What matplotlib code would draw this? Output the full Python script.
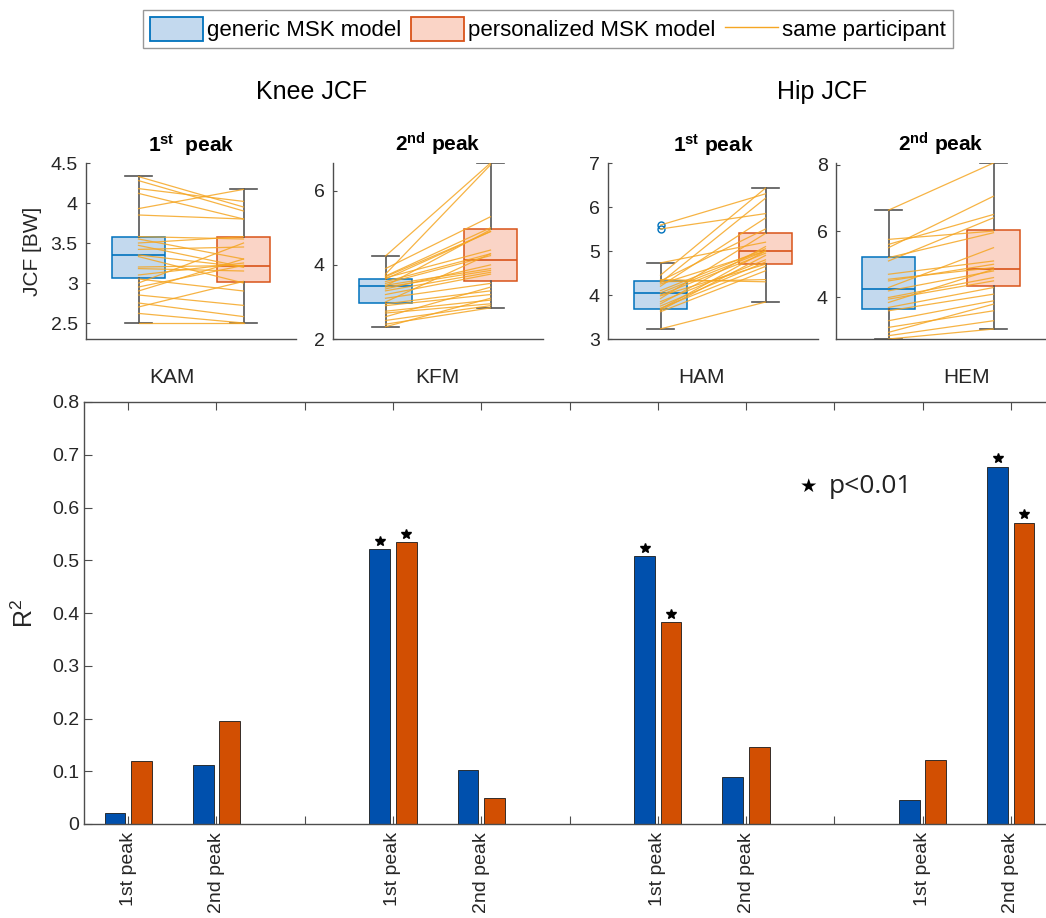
import numpy as np
import matplotlib
matplotlib.use('Agg')
import matplotlib.pyplot as plt
from matplotlib.patches import Patch
from matplotlib.lines import Line2D

plt.rcParams['font.family'] = ['Liberation Sans', 'DejaVu Sans']
plt.rcParams['mathtext.fontset'] = 'custom'
plt.rcParams['mathtext.bf'] = 'Liberation Sans:bold'
plt.rcParams['mathtext.rm'] = 'Liberation Sans'

# ---- top panels: peak JCF per participant [BW] ----
panel_titles = [r'$\mathbf{1^{st}}$  peak', r'$\mathbf{2^{nd}}$ peak',
                r'$\mathbf{1^{st}}$ peak', r'$\mathbf{2^{nd}}$ peak']

kam_generic = [4.33, 4.28, 4.18, 4.12, 3.93, 3.85, 3.58, 3.55, 3.50, 3.47, 3.42, 3.35, 3.33,
               3.20, 3.18, 3.10, 3.05, 3.00, 2.95, 2.90, 2.85, 2.75, 2.70, 2.62, 2.50]
kam_personal = [3.95, 3.90, 4.02, 3.80, 4.17, 3.80, 3.55, 3.30, 3.58, 3.20, 3.45, 3.20, 3.00,
                3.22, 3.15, 3.25, 2.90, 3.50, 3.22, 3.30, 2.72, 2.58, 3.02, 2.50, 2.50]

kfm_generic = [4.24, 3.90, 3.75, 3.70, 3.68, 3.65, 3.62, 3.55, 3.50, 3.45, 3.43, 3.40, 3.35,
               3.30, 3.20, 3.10, 3.00, 2.95, 2.90, 2.75, 2.70, 2.60, 2.50, 2.40, 2.33]
kfm_personal = [6.75, 5.30, 6.70, 5.00, 4.90, 4.40, 4.90, 4.30, 4.25, 3.90, 4.95, 3.85, 4.00,
                3.80, 3.75, 3.50, 4.30, 3.30, 3.20, 3.05, 2.95, 3.40, 2.90, 2.84, 3.10]

ham_generic = [5.59, 5.50, 4.73, 4.45, 4.35, 4.32, 4.30, 4.28, 4.25, 4.20, 4.10, 4.05, 4.00,
               3.98, 3.92, 3.85, 3.80, 3.75, 3.70, 3.68, 3.65, 3.62, 3.23]
ham_personal = [6.30, 5.85, 5.20, 6.43, 4.30, 5.50, 4.35, 6.20, 5.00, 5.75, 5.05, 5.00, 4.95,
                4.70, 5.40, 4.80, 5.10, 4.75, 4.65, 5.00, 4.90, 4.55, 3.84]

hem_generic = [6.63, 5.75, 5.60, 5.50, 5.20, 5.10, 4.70, 4.55, 4.50, 4.30, 4.20, 4.00, 3.95,
               3.85, 3.70, 3.60, 3.30, 3.10, 2.95, 2.85, 2.75]
hem_personal = [8.05, 6.00, 6.50, 7.05, 5.95, 6.40, 5.10, 4.90, 5.00, 5.50, 4.80, 4.60, 4.50,
                4.85, 4.30, 4.10, 3.90, 3.60, 3.80, 3.30, 3.05]

# box statistics: (whislo, q1, median, q3, whishi, fliers)
box_generic = [(2.50, 3.06, 3.35, 3.58, 4.34, []),
               (2.33, 2.97, 3.43, 3.62, 4.24, []),
               (3.23, 3.68, 4.04, 4.32, 4.73, [5.59, 5.50]),
               (2.75, 3.64, 4.27, 5.22, 6.63, [])]
box_personal = [(2.50, 3.01, 3.21, 3.58, 4.18, []),
                (2.84, 3.57, 4.12, 4.98, 6.75, []),
                (3.84, 4.70, 5.00, 5.41, 6.43, []),
                (3.05, 4.36, 4.87, 6.03, 8.05, [])]

panel_ylims = [(2.3, 4.5), (2.0, 6.75), (3.0, 7.0), (2.75, 8.05)]
panel_yticks = [[2.5, 3, 3.5, 4, 4.5], [2, 4, 6], [3, 4, 5, 6, 7], [4, 6, 8]]

# ---- bottom panel: R^2 between moment peaks and JCF peaks ----
moments = ['KAM', 'KFM', 'HAM', 'HEM']
peak_labels = ['1st peak', '2nd peak']
r2_generic = [0.020, 0.111, 0.521, 0.103, 0.508, 0.090, 0.046, 0.677]
r2_personal = [0.119, 0.196, 0.534, 0.050, 0.383, 0.146, 0.121, 0.571]
sig_generic = [False, False, True, False, True, False, False, True]
sig_personal = [False, False, True, False, True, False, False, True]

BLUE_EDGE = '#0072BD'
BLUE_FACE = '#C3D9EE'
ORANGE_EDGE = '#D95319'
ORANGE_FACE = '#FAD4C6'
PART_COLOR = '#F5A623'
BAR_BLUE = '#0050AD'
BAR_ORANGE = '#D24F02'
AX_GRAY = '#4D4D4D'

W, H = 1046, 918
fig = plt.figure(figsize=(W / 100, H / 100), dpi=100)


def fx(px):
    return px / W


def fy(px):
    return 1 - px / H


pairs = [(kam_generic, kam_personal), (kfm_generic, kfm_personal),
         (ham_generic, ham_personal), (hem_generic, hem_personal)]
panel_left = [86, 333, 608, 836]

for i in range(4):
    ax = fig.add_axes([fx(panel_left[i]), fy(339), fx(210), 176 / H])
    stats = []
    for s, lab in zip([box_generic[i], box_personal[i]], ['g', 'p']):
        stats.append(dict(whislo=s[0], q1=s[1], med=s[2], q3=s[3], whishi=s[4],
                          fliers=s[5], label=lab))
    bp = ax.bxp(stats, positions=[1, 2], widths=0.5, patch_artist=True,
                capwidths=0.25, showfliers=True,
                whiskerprops=dict(color='#555555', lw=1.2),
                capprops=dict(color='#555555', lw=1.2),
                flierprops=dict(marker='o', markerfacecolor='none',
                                markeredgecolor=BLUE_EDGE, markersize=5))
    for box, fc, ec in zip(bp['boxes'], [BLUE_FACE, ORANGE_FACE], [BLUE_EDGE, ORANGE_EDGE]):
        box.set_facecolor(fc)
        box.set_edgecolor(ec)
        box.set_linewidth(1.1)
        box.set_zorder(2)
    for med, ec in zip(bp['medians'], [BLUE_EDGE, ORANGE_EDGE]):
        med.set_color(ec)
        med.set_linewidth(1.2)

    g, p = pairs[i]
    for a, b in zip(g, p):
        ax.plot([1, 2], [a, b], color=PART_COLOR, lw=0.9, alpha=0.85, zorder=4)

    ax.set_xlim(0.5, 2.5)
    ax.set_ylim(*panel_ylims[i])
    ax.set_yticks(panel_yticks[i])
    ax.set_yticklabels([f'{t:g}' for t in panel_yticks[i]])
    ax.set_xticks([])
    ax.spines['top'].set_visible(False)
    ax.spines['right'].set_visible(False)
    for sp in ['left', 'bottom']:
        ax.spines[sp].set_color(AX_GRAY)
        ax.spines[sp].set_linewidth(1.0)
    ax.tick_params(axis='y', direction='in', length=3, labelsize=14,
                   colors=AX_GRAY, labelcolor='#262626', pad=6)
    ax.set_title(panel_titles[i], fontsize=15, fontweight='bold', pad=8)
    if i == 0:
        ax.set_ylabel('JCF [BW]', fontsize=15, color='#262626', labelpad=6)

fig.text(fx(312), fy(92), 'Knee JCF', ha='center', va='center', fontsize=18)
fig.text(fx(822), fy(92), 'Hip JCF', ha='center', va='center', fontsize=18)

# ---- bar chart ----
axb = fig.add_axes([fx(84), fy(824), fx(1055 - 84), (824 - 402) / H])
xpos = [1, 2, 4, 5, 7, 8, 10, 11]
off, bw = 0.15, 0.235
xs = np.array(xpos, dtype=float)
axb.bar(xs - off, r2_generic, width=bw, color=BAR_BLUE, edgecolor='#1a1a1a', lw=0.6, zorder=2)
axb.bar(xs + off, r2_personal, width=bw, color=BAR_ORANGE, edgecolor='#1a1a1a', lw=0.6, zorder=2)
for x, v, s in zip(xs - off, r2_generic, sig_generic):
    if s:
        axb.plot(x, v + 0.016, marker='*', color='k', markersize=7, zorder=3)
for x, v, s in zip(xs + off, r2_personal, sig_personal):
    if s:
        axb.plot(x, v + 0.016, marker='*', color='k', markersize=7, zorder=3)

axb.set_xlim(0.5, 11.5)
axb.set_ylim(0, 0.8)
axb.set_yticks(np.arange(0, 0.81, 0.1))
axb.set_yticklabels(['0', '0.1', '0.2', '0.3', '0.4', '0.5', '0.6', '0.7', '0.8'])
axb.set_xticks(range(1, 12))
xl = []
for k in range(1, 12):
    if k % 3 == 1:
        xl.append(peak_labels[0])
    elif k % 3 == 2:
        xl.append(peak_labels[1])
    else:
        xl.append('')
axb.set_xticklabels(xl, rotation=90)
axb.tick_params(direction='in', length=6, top=True, right=True, labelsize=14,
                colors=AX_GRAY, labelcolor='#262626')
axb.tick_params(axis='x', labelsize=14, pad=6)
for sp in axb.spines.values():
    sp.set_color(AX_GRAY)
    sp.set_linewidth(1.0)
axb.set_ylabel('R$^2$', fontsize=18, color='#262626', labelpad=10)

for k, m in enumerate(moments):
    axb.text(1.5 + 3 * k, 1.057, m, transform=axb.get_xaxis_transform(),
             ha='center', va='center', fontsize=15, color='#262626')

axb.text(0.746, 0.80, '\u2605', transform=axb.transAxes, ha='center', va='center',
         fontsize=14, family=['DejaVu Sans'])
axb.text(0.767, 0.80, 'p<0.01', transform=axb.transAxes, ha='left', va='center',
         fontsize=19, family=['Open Sans', 'DejaVu Sans'], color='#222222')

# ---- legend ----
handles = [Patch(facecolor=BLUE_FACE, edgecolor=BLUE_EDGE, lw=1.3),
           Patch(facecolor=ORANGE_FACE, edgecolor=ORANGE_EDGE, lw=1.3),
           Line2D([], [], color=PART_COLOR, lw=1.0)]
leg = fig.legend(handles, ['generic MSK model', 'personalized MSK model', 'same participant'],
                 loc='center', bbox_to_anchor=(fx(548), fy(29)), ncol=3, frameon=True,
                 fancybox=False, edgecolor='#7f7f7f', handlelength=2.4, handleheight=1.3,
                 handletextpad=0.2, columnspacing=0.4, borderpad=0.3,
                 prop={'size': 16})
leg.get_frame().set_linewidth(1.0)

fig.savefig('out.png', dpi=100)
